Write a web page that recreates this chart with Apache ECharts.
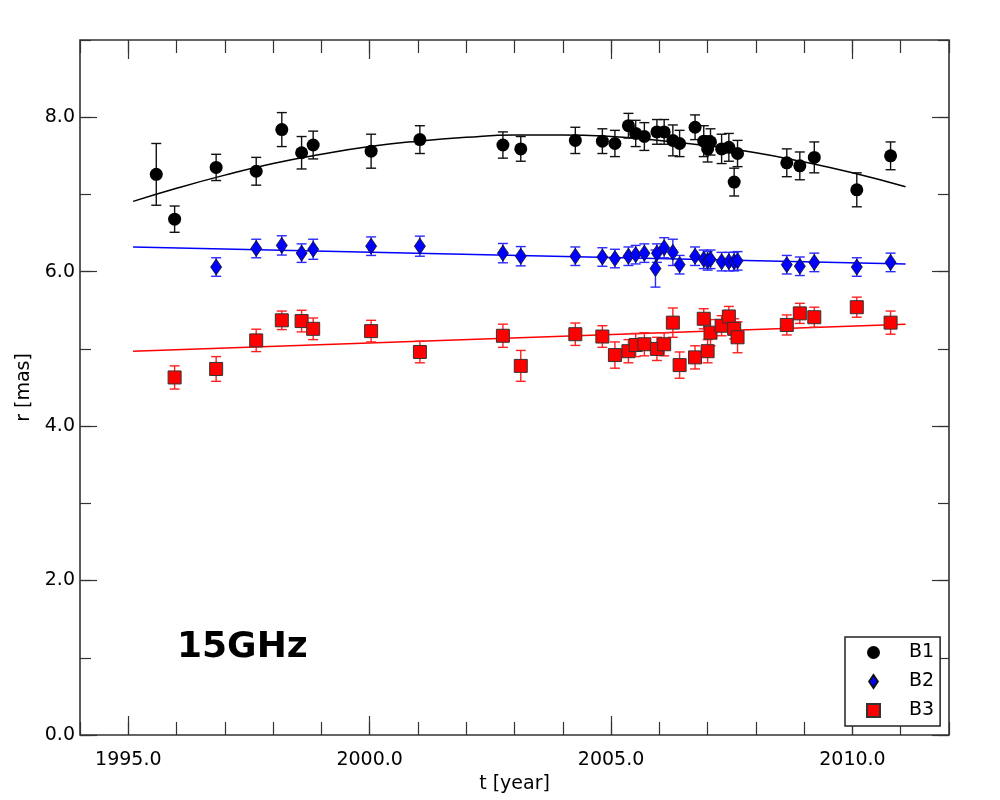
<!DOCTYPE html>
<html>
<head>
<meta charset="utf-8">
<script src="https://cdn.jsdelivr.net/npm/echarts@6/dist/echarts.min.js"></script>
<style>
  html, body { margin: 0; padding: 0; background: #fff; }
  #chart { width: 1000px; height: 800px; }
</style>
</head>
<body>
<div id="chart"></div>
<script>
// values
const b1Years = [1995.58, 1995.96, 1996.82, 1997.65, 1998.18, 1998.59, 1998.83, 2000.03, 2001.04, 2002.76, 2003.13, 2004.26, 2004.82, 2005.08, 2005.36, 2005.51, 2005.69, 2005.95, 2006.10, 2006.28, 2006.42, 2006.74, 2006.92, 2007.00, 2007.06, 2007.29, 2007.44, 2007.55, 2007.62, 2008.64, 2008.91, 2009.21, 2010.09, 2010.79];
const b1Values = [7.26, 6.68, 7.35, 7.30, 7.84, 7.54, 7.64, 7.56, 7.71, 7.64, 7.59, 7.70, 7.69, 7.66, 7.89, 7.79, 7.75, 7.81, 7.81, 7.70, 7.66, 7.87, 7.69, 7.59, 7.68, 7.59, 7.61, 7.16, 7.53, 7.41, 7.37, 7.48, 7.06, 7.50];
const b1Errors = [0.40, 0.17, 0.17, 0.18, 0.22, 0.21, 0.18, 0.22, 0.18, 0.17, 0.16, 0.17, 0.16, 0.17, 0.16, 0.17, 0.18, 0.16, 0.16, 0.20, 0.17, 0.16, 0.20, 0.17, 0.17, 0.19, 0.18, 0.18, 0.17, 0.18, 0.18, 0.20, 0.22, 0.18];

const b2Years = [1996.82, 1997.65, 1998.18, 1998.59, 1998.83, 2000.03, 2001.04, 2002.76, 2003.13, 2004.26, 2004.82, 2005.08, 2005.36, 2005.51, 2005.69, 2005.92, 2005.95, 2006.10, 2006.28, 2006.42, 2006.74, 2006.92, 2007.00, 2007.06, 2007.29, 2007.44, 2007.55, 2007.62, 2008.64, 2008.91, 2009.21, 2010.09, 2010.79];
const b2Values = [6.06, 6.30, 6.34, 6.24, 6.29, 6.33, 6.33, 6.24, 6.20, 6.20, 6.19, 6.17, 6.20, 6.22, 6.24, 6.04, 6.24, 6.31, 6.25, 6.09, 6.20, 6.16, 6.14, 6.16, 6.13, 6.13, 6.13, 6.14, 6.09, 6.07, 6.12, 6.06, 6.12];
const b2Errors = [0.12, 0.12, 0.125, 0.12, 0.13, 0.12, 0.13, 0.125, 0.125, 0.12, 0.12, 0.12, 0.12, 0.12, 0.12, 0.24, 0.12, 0.13, 0.17, 0.12, 0.12, 0.12, 0.12, 0.12, 0.12, 0.12, 0.12, 0.12, 0.12, 0.12, 0.12, 0.12, 0.12];

const b3Years = [1995.96, 1996.82, 1997.65, 1998.18, 1998.59, 1998.83, 2000.03, 2001.04, 2002.76, 2003.13, 2004.26, 2004.82, 2005.08, 2005.36, 2005.51, 2005.69, 2005.95, 2006.10, 2006.28, 2006.42, 2006.74, 2006.92, 2007.00, 2007.06, 2007.29, 2007.44, 2007.55, 2007.62, 2008.64, 2008.91, 2009.21, 2010.09, 2010.79];
const b3Values = [4.63, 4.74, 5.11, 5.37, 5.36, 5.26, 5.23, 4.96, 5.17, 4.78, 5.19, 5.16, 4.92, 4.97, 5.05, 5.06, 5.00, 5.06, 5.34, 4.79, 4.89, 5.39, 4.97, 5.21, 5.30, 5.42, 5.26, 5.15, 5.31, 5.46, 5.41, 5.54, 5.34];
const b3Errors = [0.15, 0.16, 0.145, 0.12, 0.14, 0.14, 0.14, 0.14, 0.15, 0.20, 0.145, 0.14, 0.17, 0.15, 0.15, 0.15, 0.15, 0.15, 0.19, 0.17, 0.15, 0.13, 0.15, 0.17, 0.13, 0.13, 0.13, 0.20, 0.13, 0.13, 0.13, 0.13, 0.15];

// fitted curves
const b1FitYears = [1995.1, 1996, 1997, 1998, 1999, 2000, 2001, 2002, 2003, 2004, 2005, 2006, 2007, 2008, 2009, 2010, 2011.1];
const b1FitValues = [6.91, 7.08, 7.25, 7.40, 7.52, 7.62, 7.69, 7.74, 7.77, 7.77, 7.75, 7.70, 7.63, 7.54, 7.42, 7.28, 7.10];
const b2FitYears = [1995.1, 2011.1];
const b2FitValues = [6.32, 6.10];
const b3FitYears = [1995.1, 2011.1];
const b3FitValues = [4.97, 5.32];

// ticks
const xMajorTicks = [1995, 2000, 2005, 2010];
const yMajorTicks = [0, 2, 4, 6, 8];

const FONT = 'DejaVu Sans';
const AXIS_COLOR = '#333';

const pairs = (xs, ys) => xs.map((x, i) => [x, ys[i]]);
const bars = (xs, ys, es) => xs.map((x, i) => [x, ys[i] - es[i], ys[i] + es[i]]);

function errorBars(color) {
  return function (params, api) {
    const top = api.coord([api.value(0), api.value(2)]);
    const bot = api.coord([api.value(0), api.value(1)]);
    const cap = 5;
    const style = { stroke: color, lineWidth: 1.4 };
    return {
      type: 'group',
      children: [
        { type: 'line', shape: { x1: top[0], y1: top[1], x2: bot[0], y2: bot[1] }, style: style },
        { type: 'line', shape: { x1: top[0] - cap, y1: top[1], x2: top[0] + cap, y2: top[1] }, style: style },
        { type: 'line', shape: { x1: bot[0] - cap, y1: bot[1], x2: bot[0] + cap, y2: bot[1] }, style: style }
      ]
    };
  };
}

function xAxisPair(pos, withLabels) {
  return [
    {
      type: 'value', min: 1994, max: 2012, interval: 1, position: pos, offset: 0,
      axisLine: { show: false, onZero: false },
      axisTick: { inside: true, length: 13, lineStyle: { color: AXIS_COLOR, width: 1.2 } },
      axisLabel: { show: false },
      splitLine: { show: false }
    },
    {
      type: 'value', min: 1994, max: 2012, position: pos, offset: 0,
      axisLine: { show: false, onZero: false },
      axisTick: { inside: true, length: 19, customValues: xMajorTicks, lineStyle: { color: AXIS_COLOR, width: 1.2 } },
      axisLabel: {
        show: withLabels, customValues: xMajorTicks, margin: 16,
        formatter: v => v.toFixed(1), fontSize: 19, fontFamily: FONT, color: '#000'
      },
      splitLine: { show: false },
      name: withLabels ? 't [year]' : '',
      nameLocation: 'middle', nameGap: 32,
      nameTextStyle: { fontSize: 19, fontFamily: FONT, color: '#000' }
    }
  ];
}

function yAxisPair(pos, withLabels) {
  return [
    {
      type: 'value', min: 0, max: 9, interval: 1, position: pos, offset: 0,
      axisLine: { show: false, onZero: false },
      axisTick: { inside: true, length: 11, lineStyle: { color: AXIS_COLOR, width: 1.2 } },
      axisLabel: { show: false },
      splitLine: { show: false }
    },
    {
      type: 'value', min: 0, max: 9, position: pos, offset: 0,
      axisLine: { show: false, onZero: false },
      axisTick: { inside: true, length: 17, customValues: yMajorTicks, lineStyle: { color: AXIS_COLOR, width: 1.2 } },
      axisLabel: {
        show: withLabels, customValues: yMajorTicks, margin: 5,
        formatter: v => v.toFixed(1), fontSize: 19, fontFamily: FONT, color: '#000'
      },
      splitLine: { show: false },
      name: withLabels ? 'r [mas]' : '',
      nameLocation: 'middle', nameGap: 45, nameRotate: 90,
      nameTextStyle: { fontSize: 19, fontFamily: FONT, color: '#000' }
    }
  ];
}

const chart = echarts.init(document.getElementById('chart'), null, { renderer: 'canvas' });

const option = {
  animation: false,
  backgroundColor: '#fff',
  grid: {
    left: 80, right: 51, top: 40, bottom: 65,
    containLabel: false, outerBoundsMode: 'none',
    show: true, borderColor: AXIS_COLOR, borderWidth: 1.6, backgroundColor: 'transparent'
  },
  xAxis: xAxisPair('bottom', true).concat(xAxisPair('top', false)),
  yAxis: yAxisPair('left', true).concat(yAxisPair('right', false)),
  legend: {
    orient: 'vertical', left: 845, top: 637,
    padding: [6, 6, 6, 21], itemGap: 10,
    itemWidth: 13, itemHeight: 13,
    borderColor: '#222', borderWidth: 1.5, backgroundColor: '#fff',
    textStyle: { fontSize: 19, fontFamily: FONT, color: '#000', lineHeight: 19, padding: [0, 0, 0, 24] },
    data: [
      { name: 'B1', icon: 'circle' },
      { name: 'B2', icon: 'path://M5,0 L10,7.5 L5,15 L0,7.5 Z' },
      { name: 'B3', icon: 'rect' }
    ]
  },
  graphic: [{
    type: 'text', left: 177, top: 630, z: 10,
    style: { text: '15GHz', font: 'bold 36px "DejaVu Sans"', fill: '#000' }
  }],
  series: [
    { name: 'B1 fit', type: 'line', data: pairs(b1FitYears, b1FitValues), smooth: true, showSymbol: false,
      lineStyle: { color: '#000', width: 1.5 }, z: 1, silent: true },
    { name: 'B2 fit', type: 'line', data: pairs(b2FitYears, b2FitValues), showSymbol: false,
      lineStyle: { color: '#0000ff', width: 1.5 }, z: 1, silent: true },
    { name: 'B3 fit', type: 'line', data: pairs(b3FitYears, b3FitValues), showSymbol: false,
      lineStyle: { color: '#ff0000', width: 1.5 }, z: 1, silent: true },

    { name: 'B1 err', type: 'custom', renderItem: errorBars('#111'), data: bars(b1Years, b1Values, b1Errors), z: 2, encode: { x: 0, y: [1, 2] } },
    { name: 'B2 err', type: 'custom', renderItem: errorBars('#2a2aff'), data: bars(b2Years, b2Values, b2Errors), z: 2, encode: { x: 0, y: [1, 2] } },
    { name: 'B3 err', type: 'custom', renderItem: errorBars('#ff2020'), data: bars(b3Years, b3Values, b3Errors), z: 2, encode: { x: 0, y: [1, 2] } },

    { name: 'B1', type: 'scatter', data: pairs(b1Years, b1Values), symbol: 'circle', symbolSize: 13,
      itemStyle: { color: '#000', opacity: 1 }, z: 3 },
    { name: 'B2', type: 'scatter', data: pairs(b2Years, b2Values), symbol: 'diamond', symbolSize: [11, 16],
      itemStyle: { color: '#0000ff', borderColor: '#111', borderWidth: 0.8, opacity: 1 }, z: 3 },
    { name: 'B3', type: 'scatter', data: pairs(b3Years, b3Values), symbol: 'rect', symbolSize: 13,
      itemStyle: { color: '#ff0000', borderColor: '#333', borderWidth: 1, opacity: 1 }, z: 3 }
  ]
};

chart.setOption(option);
</script>
</body>
</html>
